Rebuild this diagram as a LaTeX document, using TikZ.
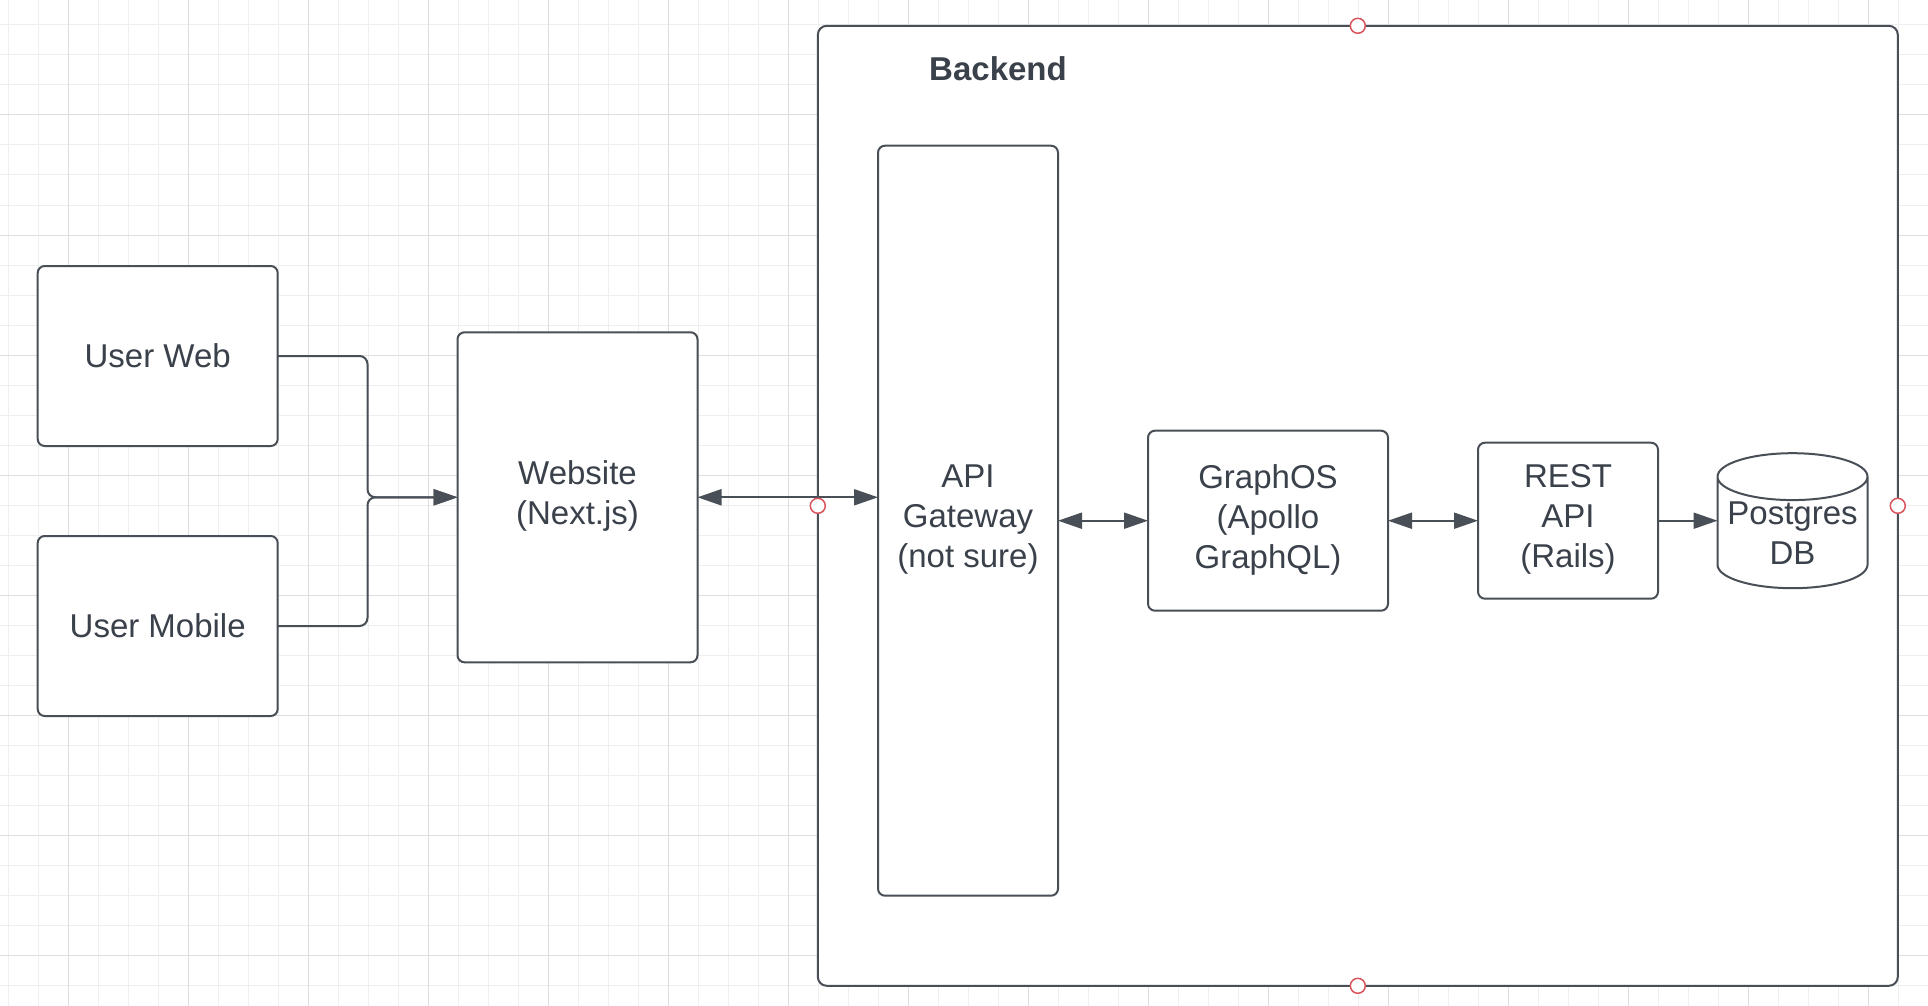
\documentclass[tikz,border=0pt]{standalone}
\usepackage{fontspec}
\setmainfont{Liberation Sans}
\usetikzlibrary{arrows.meta,positioning,shapes.geometric}
\definecolor{ink}{HTML}{3A414A}
\definecolor{edge}{HTML}{494F57}
\definecolor{gridminor}{HTML}{EFEFEF}
\definecolor{gridmajor}{HTML}{DEDEDE}
\definecolor{handle}{HTML}{D9545C}
\tikzset{
  >={Triangle[length=24pt,width=16pt]},
  block/.style={draw=edge,fill=white,line width=2pt,rounded corners=7pt,align=center,
    inner sep=0pt,outer sep=0pt,text=ink,font=\fontsize{33}{40}\selectfont,
    execute at begin node={\rule{0pt}{31pt}},
    execute at end node={\rule[-9pt]{0pt}{9pt}}},
  store/.style={cylinder,shape border rotate=90,aspect=0.36,draw=edge,fill=white,
    line width=2pt,align=center,inner sep=0pt,outer sep=0pt,text=ink,
    font=\fontsize{33}{40}\selectfont},
  title/.style={text=ink,inner sep=0pt,font=\bfseries\fontsize{33}{40}\selectfont},
  arrow/.style={->,line width=2pt,draw=edge},
  pin/.style={draw=handle,fill=white,line width=1.5pt},
}

\begin{document}
\begin{tikzpicture}[x=1pt,y=-1pt]
  \useasboundingbox (0,0) rectangle (1928,1006);
  \fill[white] (0,0) rectangle (1928,1006);
  % grid
  \foreach \gx in {8.3,38.3,...,1928} \draw[gridminor,line width=1pt] (\gx,0) -- (\gx,1006);
  \foreach \gy in {25,55,...,1006} \draw[gridminor,line width=1pt] (0,\gy) -- (1928,\gy);
  \foreach \gx in {68.3,188.3,...,1928} \draw[gridmajor,line width=1pt] (\gx,0) -- (\gx,1006);
  \foreach \gy in {115,235,...,1006} \draw[gridmajor,line width=1pt] (0,\gy) -- (1928,\gy);

  % backend container
  \node[block,rounded corners=9pt,minimum width=1080pt,minimum height=960pt] (backend) at (1357.8,505.8) {};
  \node[title] (bktitle) at (998,69) {Backend};

  % clients
  \node[block,minimum width=240pt,minimum height=180pt] (uweb) at (157.7,356) {User Web};
  \node[block,minimum width=240pt,minimum height=180pt,below=90pt of uweb] (umob) {User Mobile};
  \node[block,minimum width=240pt,minimum height=330pt] (web) at (577.5,497.3) {Website\\(Next.js)};

  % services
  \node[block,minimum width=180pt,minimum height=750pt] (gw) at (968,520.7) {API\\Gateway\\(not sure)};
  \node[block,minimum width=240pt,minimum height=180pt,right=90pt of gw] (graph) {GraphOS\\(Apollo\\GraphQL)};
  \node[block,minimum width=180pt,minimum height=156pt,right=90pt of graph] (rest) {REST\\API\\(Rails)};
  \node[store,minimum width=150pt,minimum height=135pt,anchor=shape center] (db) at (1792.5,520.7) {Postgres\\DB};

  % connectors
  \coordinate (join) at (367.5,497.3);
  \draw[arrow,rounded corners=8pt] (uweb.east) -| (join) -- (web.west);
  \draw[arrow,rounded corners=8pt] (umob.east) -| (join) -- (web.west);
  \draw[arrow,<->] (web.east) -- (web.east -| gw.west);
  \draw[arrow,<->] (gw.east) -- (graph.west);
  \draw[arrow,<->] (graph.east) -- (rest.west);
  \draw[arrow] (rest.east) -- (rest.east -| db.west);

  \foreach \side in {north,south,west,east} \draw[pin] (backend.\side) circle (7.5);
\end{tikzpicture}
\end{document}
